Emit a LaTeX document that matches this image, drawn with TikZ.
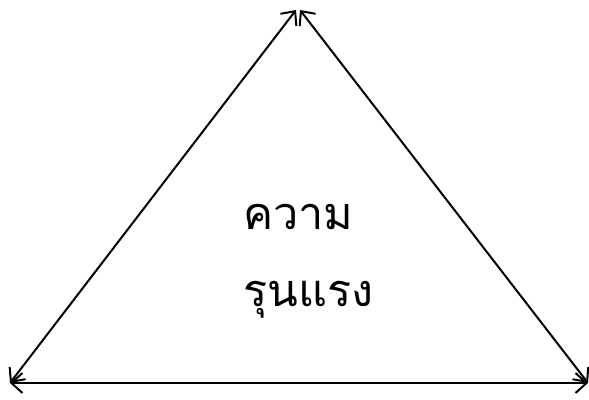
\documentclass[tikz,border=0pt]{standalone}
\usepackage{fontspec}
\newfontfamily\thaifont[Script=Thai]{Loma}
\usetikzlibrary{arrows.meta}
\begin{document}
\begin{tikzpicture}[x=1pt,y=1pt,
  side/.style={line width=2pt,{Straight Barb[length=11pt,width=20pt]}-{Straight Barb[length=11pt,width=20pt]}},
  label/.style={font=\thaifont\fontsize{45}{80}\selectfont,align=left,anchor=west,inner sep=0pt}]
\useasboundingbox (0,0) rectangle (589,399);
\coordinate (topL) at (296,389);
\coordinate (topR) at (300,389);
\coordinate (bl) at (10,16);
\coordinate (br) at (588,16);
\draw[side] (bl) -- (topL);
\draw[side] (topR) -- (br);
\draw[side] (bl) -- (br);
\node[label] (t1) at (243,182) {ความ};
\node[label] (t2) at (243,99) {รุนแรง};
\end{tikzpicture}
\end{document}
